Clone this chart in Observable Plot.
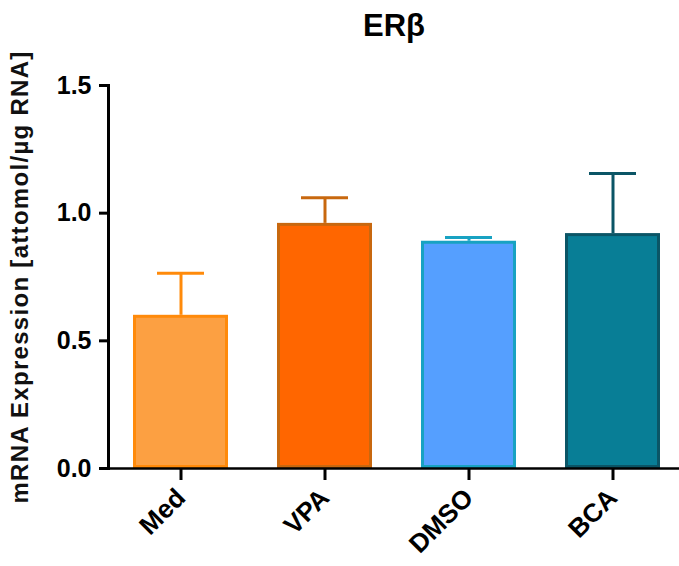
<!DOCTYPE html>
<html>
<head>
<meta charset="utf-8">
<script src="https://cdn.jsdelivr.net/npm/d3@7"></script>
<script src="https://cdn.jsdelivr.net/npm/@observablehq/plot@0.6"></script>
<style>
  html, body { margin: 0; padding: 0; background: #fff; }
  svg { display: block; }
</style>
</head>
<body>
<div id="chart"></div>
<script>
// Treatment groups and ERβ mRNA expression (mean and upper error)
const groups = ["Med", "VPA", "DMSO", "BCA"];
const means = [0.60, 0.96, 0.89, 0.92];
const errors = [0.165, 0.10, 0.015, 0.235];
const fills = ["#FCA042", "#FF6600", "#559FFF", "#087E96"];
const strokes = ["#FF8A0A", "#C8680F", "#18A2C2", "#0B5566"];
const yTicks = [0, 0.5, 1.0, 1.5];
const title = "ERβ";
const yLabel = "mRNA Expression [attomol/µg RNA]";

const data = groups.map((g, i) => ({
  group: g,
  mean: means[i],
  upper: means[i] + errors[i],
  fill: fills[i],
  stroke: strokes[i]
}));

const font = "Liberation Sans, Arial, sans-serif";

const chart = Plot.plot({
  width: 679,
  height: 566,
  marginTop: 85,
  marginBottom: 98,
  marginLeft: 108,
  marginRight: 0,
  style: { fontFamily: font, background: "#fff", overflow: "visible" },
  x: { domain: groups, range: [108, 684], paddingInner: 0.342, paddingOuter: 0.167, label: null },
  y: { domain: [0, 1.5], label: null },
  color: { type: "identity" },
  marks: [
    // upper error bars
    Plot.ruleX(data, { x: "group", y1: "mean", y2: "upper", stroke: "stroke", strokeWidth: 3 }),
    Plot.tickY(data, { x: "group", y: "upper", stroke: "stroke", strokeWidth: 3, inset: 24 }),
    // bars
    Plot.barY(data, { x: "group", y: "mean", fill: "fill", stroke: "stroke", strokeWidth: 3, inset: 1.5 }),
    // axis lines
    Plot.ruleY([0], { stroke: "#000", strokeWidth: 2.5 }),
    Plot.frame({ anchor: "left", stroke: "#000", strokeWidth: 3 }),
    Plot.axisY({
      ticks: yTicks, tickFormat: d3.format(".1f"), tickSize: 9, tickPadding: 8,
      fontSize: 25, fontWeight: "bold", strokeWidth: 3, label: null
    }),
    Plot.axisX({
      tickSize: 12, tickPadding: 13, tickRotate: -45,
      fontSize: 26, fontWeight: "bold", strokeWidth: 3, label: null
    }),
    // y-axis title
    Plot.text([yLabel], {
      frameAnchor: "left", dx: -88, rotate: -90, textAnchor: "middle",
      fontSize: 24, fontWeight: "bold", fill: "#111"
    }),
    // chart title
    Plot.text([title], {
      frameAnchor: "top", dy: -50, lineAnchor: "bottom",
      fontSize: 31, fontWeight: "bold", fill: "#000"
    })
  ]
});

// widen the spacing of the y-axis title letters
d3.select(chart).selectAll("text")
  .filter(function () { return this.textContent === yLabel; })
  .attr("letter-spacing", "1.3px");

document.getElementById("chart").appendChild(chart);
</script>
</body>
</html>
